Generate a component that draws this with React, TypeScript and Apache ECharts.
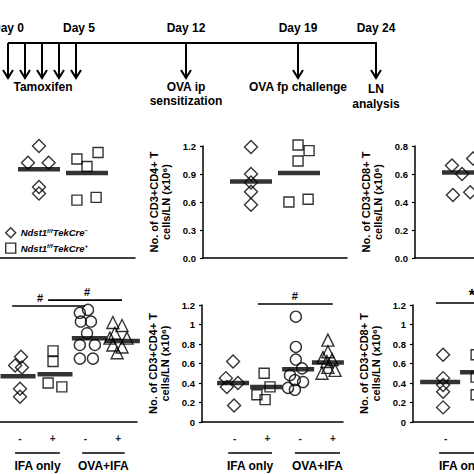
import React, { useEffect, useRef } from "react";
import * as echarts from "echarts";

// ---------------- data ----------------
const legendNames = ["cre_neg", "cre_pos"];
const legendLabels: Record<string, string> = {
  cre_neg: "{t|Ndst1}{s|f/f}{t|TekCre}{s|−}",
  cre_pos: "{t|Ndst1}{s|f/f}{t|TekCre}{s|+}",
};

// top row (1 = Cre-, 2 = Cre+)
const topA_neg = [[1.0, 1.2], [0.77, 1.02], [1.2, 1.02], [1.0, 0.76], [1.0, 0.69]];
const topA_pos = [[2.23, 1.13], [1.79, 1.06], [2.0, 0.98], [1.79, 0.62], [2.19, 0.65]];
const topA_meanX = [1, 2];
const topA_means = [0.95, 0.91];

const topB_neg = [[1.0, 1.19], [1.0, 0.9], [1.0, 0.81], [1.0, 0.71], [1.0, 0.57]];
const topB_pos = [[1.98, 1.21], [2.21, 1.15], [1.98, 1.04], [1.79, 0.6], [2.19, 0.63]];
const topB_meanX = [1, 2];
const topB_means = [0.82, 0.91];

const topC_neg = [[0.77, 0.66], [0.98, 0.6], [1.21, 0.71], [0.79, 0.45], [1.15, 0.47]];
const topC_meanX = [1];
const topC_means = [0.61];

// bottom row (1 = IFA -, 2 = IFA +, 3 = OVA+IFA -, 4 = OVA+IFA +)
const xTickValues = [1, 2, 3, 4];
const xTickLabels = ["-", "+", "-", "+"];

const botA_neg = [[1.03, 0.67], [0.85, 0.58], [1.06, 0.56], [1.0, 0.34], [1.0, 0.26]];
const botA_pos = [[2.01, 0.73], [2.01, 0.62], [1.86, 0.4], [2.28, 0.36]];
const botA_ovaNeg = [[2.83, 1.12], [3.08, 1.15], [2.86, 1.03], [3.17, 1.03], [3.05, 0.91], [2.83, 0.79], [3.29, 0.79], [2.83, 0.65], [3.23, 0.65]];
const botA_ovaPos = [[3.84, 1.02], [4.12, 0.99], [3.9, 0.91], [3.75, 0.86], [4.27, 0.86], [3.84, 0.79], [4.12, 0.77], [3.97, 0.71]];
const botA_meanX = [0.94, 2.07, 3.12, 4.13];
const botA_means = [0.47, 0.49, 0.86, 0.83];

const botB_neg = [[0.95, 0.62], [0.73, 0.45], [1.1, 0.4], [0.76, 0.36], [0.98, 0.17]];
const botB_pos = [[1.9, 0.5], [2.08, 0.36], [1.68, 0.28], [1.93, 0.23]];
const botB_ovaNeg = [[2.87, 1.08], [2.87, 0.77], [2.87, 0.64], [3.06, 0.55], [2.69, 0.48], [3.09, 0.41], [2.84, 0.43], [2.63, 0.35], [2.84, 0.33]];
const botB_ovaPos = [[3.85, 0.84], [3.85, 0.72], [3.7, 0.66], [3.98, 0.64], [3.67, 0.5], [4.07, 0.53], [3.85, 0.56], [3.82, 0.62]];
const botB_meanX = [0.95, 1.96, 2.94, 3.85];
const botB_means = [0.4, 0.36, 0.54, 0.61];

const botC_neg = [[0.92, 0.69], [0.92, 0.45], [0.92, 0.38], [0.92, 0.31], [0.92, 0.15]];
const botC_pos = [[1.93, 0.69], [1.93, 0.46], [1.93, 0.28]];
const botC_meanX = [0.83, 2.05];
const botC_means = [0.41, 0.51];

// significance: [panel, xFrom, xTo, y, labelX, label]
const sigMarks: [number, number, number, number, number, string][] = [
  [3, 0.76, 2.99, 1.19, 1.61, "#"],
  [3, 1.86, 4.12, 1.25, 3.05, "#"],
  [4, 1.71, 4.0, 1.21, 2.84, "#"],
  [5, 0.7, 2.7, 1.22, 1.8, "*"],
];
// group labels: [panel, xFrom, xTo, label]
const groupMarks: [number, number, number, string][] = [
  [3, 0.85, 2.22, "IFA only"],
  [3, 2.9, 4.2, "OVA+IFA"],
  [4, 0.8, 2.14, "IFA only"],
  [4, 2.84, 4.22, "OVA+IFA"],
  [5, 0.8, 2.2, "IFA only"],
];

// timeline
const dayLabels = ["Day 0", "Day 5", "Day 12", "Day 19", "Day 24"];
const eventLabels = [["Tamoxifen"], ["OVA ip", "sensitization"], ["OVA fp challenge"], ["LN", "analysis"]];

const yNameCD4 = "No. of CD3+CD4+ T\ncells/LN (x10⁶)";
const yNameCD8 = "No. of CD3+CD8+ T\ncells/LN (x10⁶)";

// ---------------- layout ----------------
const FONT = "'Liberation Sans', Arial, Helvetica, sans-serif";
const TL_Y = 43;
const TL_X0 = 8;
const TL_X1 = 376;
const arrowXs = [8, 25, 42, 59, 76, 186, 298, 376];
const dayLabelXs = [8, 79, 186, 298, 376];
const eventXs = [43, 186, 298, 376];
const eventYs = [[87], [87, 101], [87], [89, 104]];

// grid boxes plus x range (in group units)
const grids = [
  { left: 0, top: 146, width: 135, height: 112, xmin: 0.1875, xmax: 3.0 },
  { left: 203, top: 146, width: 144, height: 112, xmin: 0, xmax: 3.0 },
  { left: 415, top: 146, width: 59, height: 112, xmin: 0, xmax: 59 / 48 },
  { left: 0, top: 305, width: 137, height: 117, xmin: 12.7 / 32.7, xmax: (137 + 12.7) / 32.7 },
  { left: 202, top: 305, width: 141, height: 117, xmin: 0, xmax: 141 / 32.7 },
  { left: 413, top: 305, width: 61, height: 117, xmin: 0, xmax: 61 / 32.7 },
];

export default function App() {
  const ref = useRef<HTMLDivElement>(null);
  useEffect(() => {
    if (!ref.current) return;
    const chart = echarts.init(ref.current, null, { renderer: "svg" });

    const mkLine = () => ({ show: true, onZero: false, lineStyle: { color: "#000", width: 1.5, type: "solid" } });
    const nameStyle = () => ({ color: "#000", fontSize: 11, fontWeight: "bold", fontFamily: FONT, lineHeight: 12 });

    const xAxes = grids.map((g, i) => {
      const bottom = i >= 3;
      return {
        type: "value",
        gridIndex: i,
        min: g.xmin,
        max: g.xmax,
        axisLine: mkLine(),
        axisTick: { show: false },
        splitLine: { show: false },
        axisLabel: bottom
          ? {
              show: true,
              color: "#222",
              fontSize: 10,
              fontWeight: "bold",
              fontFamily: FONT,
              margin: 11,
              customValues: xTickValues,
              formatter: (v: number) => {
                const k = xTickValues.indexOf(Math.round(v));
                return k >= 0 ? xTickLabels[k] : "";
              },
            }
          : { show: false },
      };
    });

    const hiddenY = (i: number) => ({
      type: "value",
      gridIndex: i,
      min: 0,
      max: 1.2,
      axisLine: { show: false, onZero: false },
      axisTick: { show: false },
      axisLabel: { show: false },
      splitLine: { show: false },
    });
    const shownY = (i: number, max: number, interval: number, fixed: boolean, name: string) => ({
      type: "value",
      gridIndex: i,
      min: 0,
      max,
      interval,
      axisLine: mkLine(),
      axisTick: { show: true, inside: false, length: 3, lineStyle: { color: "#000", width: 1.2 } },
      splitLine: { show: false },
      axisLabel: {
        show: true,
        color: "#000",
        fontSize: 9.5,
        fontWeight: "bold",
        fontFamily: FONT,
        margin: 7,
        formatter: (v: number) => (fixed ? v.toFixed(1) : String(Math.round(v * 10) / 10)),
      },
      name,
      nameLocation: "middle",
      nameRotate: 90,
      nameGap: 31,
      nameTextStyle: nameStyle(),
    });
    const yAxes = [
      hiddenY(0),
      shownY(1, 1.2, 0.3, true, yNameCD4),
      shownY(2, 0.8, 0.2, true, yNameCD8),
      hiddenY(3),
      shownY(4, 1.2, 0.2, false, yNameCD4),
      shownY(5, 1.2, 0.2, false, yNameCD8),
    ];

    const pts = (name: string, g: number, data: number[][], symbol: string, size: number | number[]) => ({
      type: "scatter",
      name,
      xAxisIndex: g,
      yAxisIndex: g,
      data,
      symbol,
      symbolSize: size,
      clip: false,
      silent: true,
      z: 3,
      itemStyle: { color: "rgba(0,0,0,0)", borderColor: "#000", borderWidth: 1.4 },
    });
    const means = (g: number, xs: number[], ys: number[], w: number) => ({
      type: "scatter",
      xAxisIndex: g,
      yAxisIndex: g,
      data: xs.map((x, k) => [x, ys[k]]),
      symbol: "rect",
      symbolSize: [w, 4.5],
      clip: false,
      silent: true,
      z: 5,
      itemStyle: { color: "#000" },
    });

    const DIA = [13, 13];
    const SQ = 10;
    const series = [
      pts("cre_neg", 0, topA_neg, "diamond", DIA),
      pts("cre_pos", 0, topA_pos, "rect", SQ),
      means(0, topA_meanX, topA_means, 42),
      pts("cre_neg", 1, topB_neg, "diamond", DIA),
      pts("cre_pos", 1, topB_pos, "rect", SQ),
      means(1, topB_meanX, topB_means, 42),
      pts("cre_neg", 2, topC_neg, "diamond", DIA),
      means(2, topC_meanX, topC_means, 42),
      pts("cre_neg", 3, botA_neg, "diamond", DIA),
      pts("cre_pos", 3, botA_pos, "rect", SQ),
      pts("ova_neg", 3, botA_ovaNeg, "circle", 11),
      pts("ova_pos", 3, botA_ovaPos, "triangle", 12),
      means(3, botA_meanX, botA_means, 35),
      pts("cre_neg", 4, botB_neg, "diamond", DIA),
      pts("cre_pos", 4, botB_pos, "rect", SQ),
      pts("ova_neg", 4, botB_ovaNeg, "circle", 11),
      pts("ova_pos", 4, botB_ovaPos, "triangle", 12),
      means(4, botB_meanX, botB_means, 32),
      pts("cre_neg", 5, botC_neg, "diamond", DIA),
      pts("cre_pos", 5, botC_pos, "rect", SQ),
      means(5, botC_meanX, botC_means, 40),
    ];

    chart.setOption({
      animation: false,
      backgroundColor: "#fff",
      textStyle: { fontFamily: FONT },
      grid: grids.map((g) => ({ left: g.left, top: g.top, width: g.width, height: g.height, containLabel: false })),
      xAxis: xAxes,
      yAxis: yAxes,
      legend: {
        data: legendNames,
        orient: "vertical",
        left: 0,
        top: 222,
        itemWidth: 10,
        itemHeight: 10,
        itemGap: 4,
        selectedMode: false,
        itemStyle: { color: "rgba(0,0,0,0)", borderColor: "#000", borderWidth: 1.4 },
        formatter: (n: string) => legendLabels[n] || n,
        textStyle: {
          color: "#000",
          fontFamily: FONT,
          rich: {
            t: { fontSize: 9.5, fontWeight: "bold", fontStyle: "italic", fontFamily: FONT, color: "#000" },
            s: { fontSize: 6, fontWeight: "bold", fontStyle: "italic", fontFamily: FONT, color: "#000", verticalAlign: "top" },
          },
        },
      },
      series,
    });

    // annotations computed from the axes
    const px = (g: number, x: number, y: number) =>
      chart.convertToPixel({ xAxisIndex: g, yAxisIndex: g } as any, [x, y]) as number[];

    const graphics: any[] = [];
    const bold = (size: number) => `bold ${size}px ${FONT}`;
    const lineEl = (x1: number, y1: number, x2: number, y2: number, w = 1.6) => ({
      type: "line",
      shape: { x1, y1, x2, y2 },
      style: { stroke: "#000", lineWidth: w },
      silent: true,
    });
    const textEl = (x: number, y: number, text: string, size: number) => ({
      type: "text",
      x,
      y,
      style: { text, font: bold(size), fill: "#000", align: "center", verticalAlign: "middle" },
      silent: true,
    });

    // timeline
    graphics.push(lineEl(TL_X0, TL_Y, TL_X1 + 1, TL_Y, 2));
    arrowXs.forEach((x) => {
      graphics.push(lineEl(x, TL_Y, x, 78, 2));
      graphics.push({
        type: "polyline",
        shape: { points: [[x - 5, 70], [x, 78], [x + 5, 70]] },
        style: { stroke: "#000", lineWidth: 2, fill: "none" },
        silent: true,
      });
    });
    dayLabels.forEach((d, k) => graphics.push(textEl(dayLabelXs[k], 28, d, 12)));
    eventLabels.forEach((lines, k) =>
      lines.forEach((t, j) => graphics.push(textEl(eventXs[k], eventYs[k][j], t, 12)))
    );

    // significance bars
    sigMarks.forEach(([g, x1, x2, y, lx, label]) => {
      const a = px(g, x1, y);
      const b = px(g, x2, y);
      graphics.push(lineEl(a[0], a[1], b[0], b[1], 1.6));
      const c = px(g, lx, y);
      graphics.push(textEl(c[0], c[1] - 8, label, label === "*" ? 16 : 11));
    });

    // group labels under the x axis
    groupMarks.forEach(([g, x1, x2, label]) => {
      const a = px(g, x1, 0);
      const b = px(g, x2, 0);
      graphics.push(lineEl(a[0], a[1] + 31, b[0], b[1] + 31, 1.6));
      graphics.push(textEl((a[0] + b[0]) / 2, a[1] + 44, label, 12));
    });

    chart.setOption({ graphic: graphics });

    return () => chart.dispose();
  }, []);

  return (
    <div
      ref={ref}
      style={{ position: "fixed", left: 0, top: 0, width: 474, height: 474, background: "#fff" }}
    />
  );
}
